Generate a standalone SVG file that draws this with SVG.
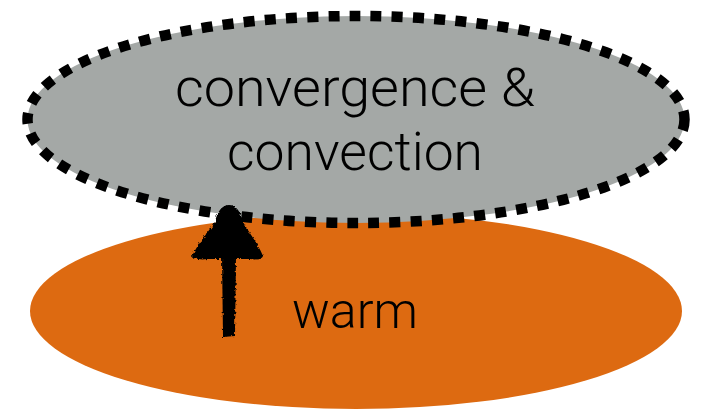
<svg xmlns="http://www.w3.org/2000/svg" width="709" height="411" viewBox="0 0 709 411">
  <defs>
    <style>
      .label { font-family: Roboto, "Liberation Sans", Arial, sans-serif; font-weight: 300; fill: #000; text-anchor: middle; }
    </style>
    <filter id="crayon" x="-20%" y="-20%" width="140%" height="140%">
      <feTurbulence type="fractalNoise" baseFrequency="0.35" numOctaves="2" seed="4" result="noise"/>
      <feDisplacementMap in="SourceGraphic" in2="noise" scale="4" xChannelSelector="R" yChannelSelector="G"/>
    </filter>
  </defs>
  <rect width="709" height="411" fill="#ffffff"/>

  <!-- warm surface layer -->
  <g id="warm">
    <ellipse cx="356" cy="311" rx="326" ry="98" fill="#dd6a11"/>
    <text class="label" x="355" y="328" font-size="50" textLength="126" lengthAdjust="spacingAndGlyphs">warm</text>
  </g>

  <!-- convergence / convection region with dashed outline -->
  <g id="convergence">
    <ellipse cx="356" cy="119.5" rx="328.5" ry="103.5" fill="#a4a8a6" stroke="#000" stroke-width="10.5" stroke-dasharray="11 10.2"/>
    <text class="label" x="355" y="106" font-size="54" textLength="360" lengthAdjust="spacingAndGlyphs">convergence &amp;</text>
    <text class="label" x="355" y="170" font-size="54" textLength="256" lengthAdjust="spacingAndGlyphs">convection</text>
  </g>

  <!-- upward arrow linking the layers -->
  <g id="connectors">
    <g filter="url(#crayon)" fill="#000">
      <path d="M222,256 L236,256 L235,336 L223,337 Z"/>
      <path d="M229,205 C236,205 241,212 243,222 C250,234 258,244 263,256 C262,259 258,260 250,259 L208,259 C200,260 193,259 192,256 C198,244 208,232 215,222 C217,212 222,205 229,205 Z"/>
    </g>
  </g>
</svg>
